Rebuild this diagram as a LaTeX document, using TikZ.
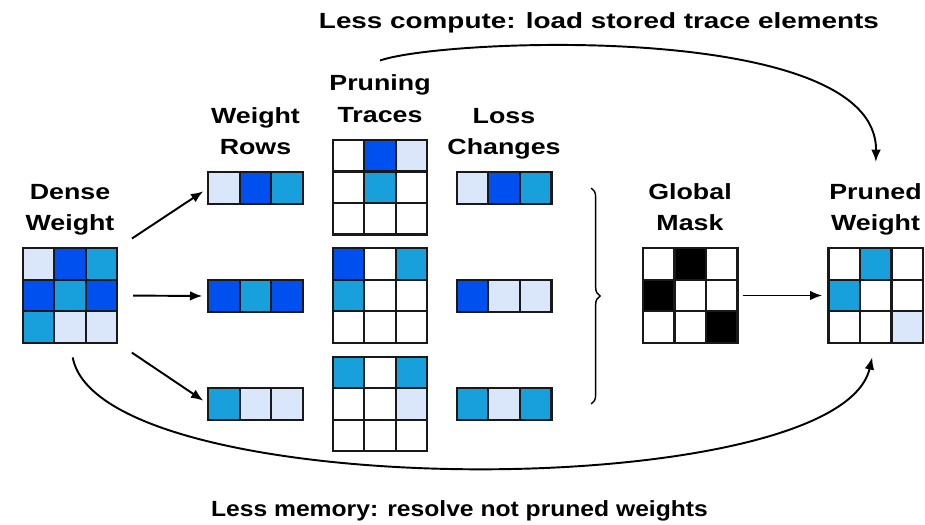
\documentclass[tikz,border=0pt]{standalone}
\usepackage{fontspec}
\setmainfont{Liberation Sans}[FakeStretch=1.22]
\usetikzlibrary{positioning,calc,arrows.meta,decorations.pathreplacing}

\definecolor{lb}{RGB}{218,230,250}
\definecolor{db}{RGB}{0,80,240}
\definecolor{mb}{RGB}{24,160,220}

% cells of a grid node: node, columns, colours row by row
\newcommand{\cells}[3]{%
	\foreach \col [count=\k from 0] in {#3} {
		\pgfmathtruncatemacro{\ci}{mod(\k,#2)}
		\pgfmathtruncatemacro{\cj}{floor(\k/#2)}
		\draw[cell, fill=\col] ($(#1.north west)+(\ci*31.5,\cj*31.5)$) rectangle ++(31.5,31.5);
	}
}

\begin{document}
\begin{tikzpicture}[x=0.02cm, y=-0.02cm,
	gridbox/.style={rectangle, inner sep=0pt, outer sep=0pt, minimum size=1.89cm},
	rowbox/.style={rectangle, inner sep=0pt, outer sep=0pt, minimum width=1.89cm, minimum height=0.63cm},
	cell/.style={draw=black!90, line width=1.4pt},
	lbl/.style={align=center, inner sep=0pt, text depth=0pt, font=\fontsize{12.5}{18}\selectfont\bfseries},
	arr/.style={-{Latex[length=7pt,width=5.5pt]}, line width=1.1pt},
	brc/.style={decorate, decoration={brace, amplitude=5pt}, line width=0.8pt},
	]
	\useasboundingbox (0,0) rectangle (925,524);
	
	%Nodes
	\node[gridbox]	(dense)		at (70,295.5)		{};
	\node[rowbox]	(rowA)		at (255.5,188)		{};
	\node[rowbox]	(rowB)		at (255.5,296)		{};
	\node[rowbox]	(rowC)		at (255.5,404)		{};
	\node[gridbox]	(traceB)	at (380,295.5)		{};
	\node[gridbox]	(traceA)	[above=0.28cm of traceB]	{};
	\node[gridbox]	(traceC)	[below=0.28cm of traceB]	{};
	\node[rowbox]	(lossA)		at (504,188)		{};
	\node[rowbox]	(lossB)		at (504,296)		{};
	\node[rowbox]	(lossC)		at (504,404)		{};
	\node[gridbox]	(mask)		at (690,295.5)		{};
	\node[gridbox]	(pruned)	at (875.5,295.5)	{};
	
	\node[lbl]	(denselbl)	[above=0.34cm of dense]		{Dense\\Weight};
	\node[lbl]	(rowlbl)	[above=0.34cm of rowA]		{Weight\\Rows};
	\node[lbl]	(tracelbl)	[above=0.34cm of traceA]	{Pruning\\Traces};
	\node[lbl]	(losslbl)	[above=0.34cm of lossA]		{Loss\\Changes};
	\node[lbl]	(masklbl)	[above=0.34cm of mask]		{Global\\Mask};
	\node[lbl]	(prunedlbl)	[above=0.34cm of pruned]	{Pruned\\Weight};
	\node[lbl, anchor=base]	(compute)	at (599,28.5)	{\scalebox{1.04}[1]{Less compute: load stored trace elements}};
	\node[lbl, anchor=base]	(memory)	at (459.5,516)	{\scalebox{0.92}[1]{Less memory: resolve not pruned weights}};
	\coordinate (cstart) at ($(tracelbl.north)+(0,-14)$);
	
	%Cells
	\cells{dense}{3}{lb,db,mb,db,mb,db,mb,lb,lb}
	\cells{rowA}{3}{lb,db,mb}
	\cells{rowB}{3}{db,mb,db}
	\cells{rowC}{3}{mb,lb,lb}
	\cells{traceA}{3}{white,db,lb,white,mb,white,white,white,white}
	\cells{traceB}{3}{db,white,mb,mb,white,white,white,white,white}
	\cells{traceC}{3}{mb,white,mb,white,white,lb,white,white,white}
	\cells{lossA}{3}{lb,db,mb}
	\cells{lossB}{3}{db,lb,lb}
	\cells{lossC}{3}{mb,lb,mb}
	\cells{mask}{3}{white,black,white,black,white,white,white,white,black}
	\cells{pruned}{3}{white,mb,white,mb,white,white,white,white,lb}
	
	%Lines
	\draw[arr, shorten <=10pt, shorten >=3.4pt] (dense.north east) -- (rowA.west);
	\draw[arr, shorten <=9pt, shorten >=3.4pt] (dense.east) -- (rowB.west);
	\draw[arr, shorten <=10pt, shorten >=3.4pt] (dense.south east) -- (rowC.west);
	\draw[brc] ([xshift=0.8cm]lossA.east) -- ([xshift=0.8cm]lossC.east);
	\draw[arr, shorten <=3.4pt, shorten >=3.4pt] (mask.east) -- (pruned.west);
	\draw[arr, shorten >=12pt] (cstart) .. controls +(61,-22) and +(2.5,-163) .. (prunedlbl.north);
	\draw[arr, shorten <=8.5pt, shorten >=8.5pt] (dense.south) .. controls +(30,162) and +(-37,162) .. (pruned.south);
	
\end{tikzpicture}
\end{document}
